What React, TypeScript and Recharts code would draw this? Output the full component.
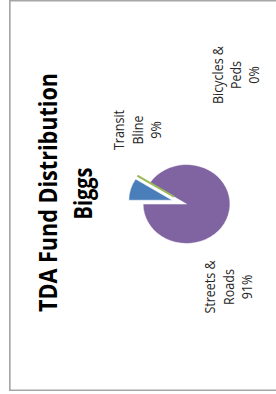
import React from 'react';
import { PieChart, Pie, Cell } from 'recharts';

const categories = ['Transit\nBline', 'Bicycles &\nPeds', 'Streets &\nRoads'];
const shares = [9, 0, 91];
const colors = ['#4A7EBB', '#9BBB59', '#8064A2'];
const titleText = 'TDA Fund Distribution';
const subtitleText = 'Biggs';

const data = categories.map((name, i) => ({ name, value: shares[i] }));

// chart drawn in its own (unrotated) frame, then turned a quarter turn
const W = 391;
const H = 250;
const CX = 187;
const CY = 161.4;
const R = 39.5;
const EXPLODE = 13.5;
const LINE = 16.8;

const total = shares.reduce((a, b) => a + b, 0);
const bisectorDeg = (i: number) => {
  const before = shares.slice(0, i).reduce((a, b) => a + b, 0);
  return ((before + shares[i] / 2) / total) * 360; // clockwise from 12 o'clock
};
const explodedCenter = (i: number) => {
  const a = (bisectorDeg(i) * Math.PI) / 180;
  return { cx: CX + EXPLODE * Math.sin(a), cy: CY - EXPLODE * Math.cos(a) };
};

const labelLayout: Record<number, { du: number; dv: number }> = {
  0: { du: 74, dv: -56.4 },
  1: { du: 129, dv: 32.7 },
  2: { du: -83, dv: 26.3 },
};

const labelFont = "'Open Sans', sans-serif";

const renderLabel = (props: any) => {
  const { cx, cy, index, percent } = props;
  const lay = labelLayout[index];
  if (!lay) return null;
  const lines = [...categories[index].split('\n'), `${Math.round(percent * 100)}%`];
  const x = cx + lay.du;
  return (
    <text
      key={`lbl-${index}`}
      x={x}
      y={cy + lay.dv}
      textAnchor="middle"
      fontFamily={labelFont}
      fontSize={12.5}
      fill="#262626"
    >
      {lines.map((t, k) => (
        <tspan key={k} x={x} dy={k === 0 ? 0 : LINE}>
          {t}
        </tspan>
      ))}
    </text>
  );
};

const renderZeroLine = (props: any) => {
  const { cx, cy, index, midAngle, outerRadius } = props;
  if (index !== 1) return null;
  const rad = (-midAngle * Math.PI) / 180;
  return (
    <line
      key="zero-line"
      x1={cx}
      y1={cy}
      x2={cx + outerRadius * Math.cos(rad)}
      y2={cy + outerRadius * Math.sin(rad)}
      stroke={colors[1]}
      strokeWidth={2}
    />
  );
};

const t0 = explodedCenter(0);
const t1 = explodedCenter(1);
const noMargin = { top: 0, right: 0, bottom: 0, left: 0 };

export default function App() {
  return (
    <div style={{ position: 'absolute', left: 0, top: 0, width: 276, height: 394, overflow: 'hidden', background: '#fff' }}>
      <div
        style={{
          position: 'absolute',
          left: 8.5,
          top: 391,
          width: W,
          height: H,
          transform: 'rotate(-90deg) scale(1, 1.1)',
          transformOrigin: '0 0',
        }}
      >
        <PieChart width={W} height={H} margin={noMargin}>
          <rect x={0.75} y={0.75} width={W - 1.5} height={H + 20} fill="#fff" stroke="#a6a6a6" strokeWidth={1.5} />
          <text
            x={198.5}
            y={43.8}
            textAnchor="middle"
            fontFamily="'Open Sans', sans-serif"
            fontWeight={700}
            fontSize={23}
            fill="#000"
            textLength={239}
            lengthAdjust="spacingAndGlyphs"
          >
            {titleText}
          </text>
          <text
            x={197.5}
            y={75.6}
            textAnchor="middle"
            fontFamily="'Open Sans', sans-serif"
            fontWeight={700}
            fontSize={23}
            fill="#000"
            textLength={52}
            lengthAdjust="spacingAndGlyphs"
          >
            {subtitleText}
          </text>
          <Pie
            data={data}
            dataKey="value"
            nameKey="name"
            cx={CX}
            cy={CY}
            outerRadius={R}
            startAngle={90}
            endAngle={-270}
            isAnimationActive={false}
            labelLine={false}
            label={renderLabel}
          >
            {data.map((d, i) => (
              <Cell key={i} fill={i === 2 ? colors[2] : 'none'} stroke={i === 2 ? '#fff' : 'none'} strokeWidth={0.5} />
            ))}
          </Pie>
          <Pie
            data={data}
            dataKey="value"
            nameKey="name"
            cx={t0.cx}
            cy={t0.cy}
            outerRadius={R}
            startAngle={90}
            endAngle={-270}
            isAnimationActive={false}
            labelLine={false}
            label={false}
          >
            {data.map((d, i) => (
              <Cell key={i} fill={i === 0 ? colors[0] : 'none'} stroke={i === 0 ? '#fff' : 'none'} strokeWidth={0.5} />
            ))}
          </Pie>
          <Pie
            data={data}
            dataKey="value"
            nameKey="name"
            cx={t1.cx}
            cy={t1.cy}
            outerRadius={R}
            startAngle={90}
            endAngle={-270}
            isAnimationActive={false}
            labelLine={false}
            label={renderZeroLine}
          >
            {data.map((d, i) => (
              <Cell key={i} fill="none" stroke="none" />
            ))}
          </Pie>
        </PieChart>
      </div>
    </div>
  );
}
